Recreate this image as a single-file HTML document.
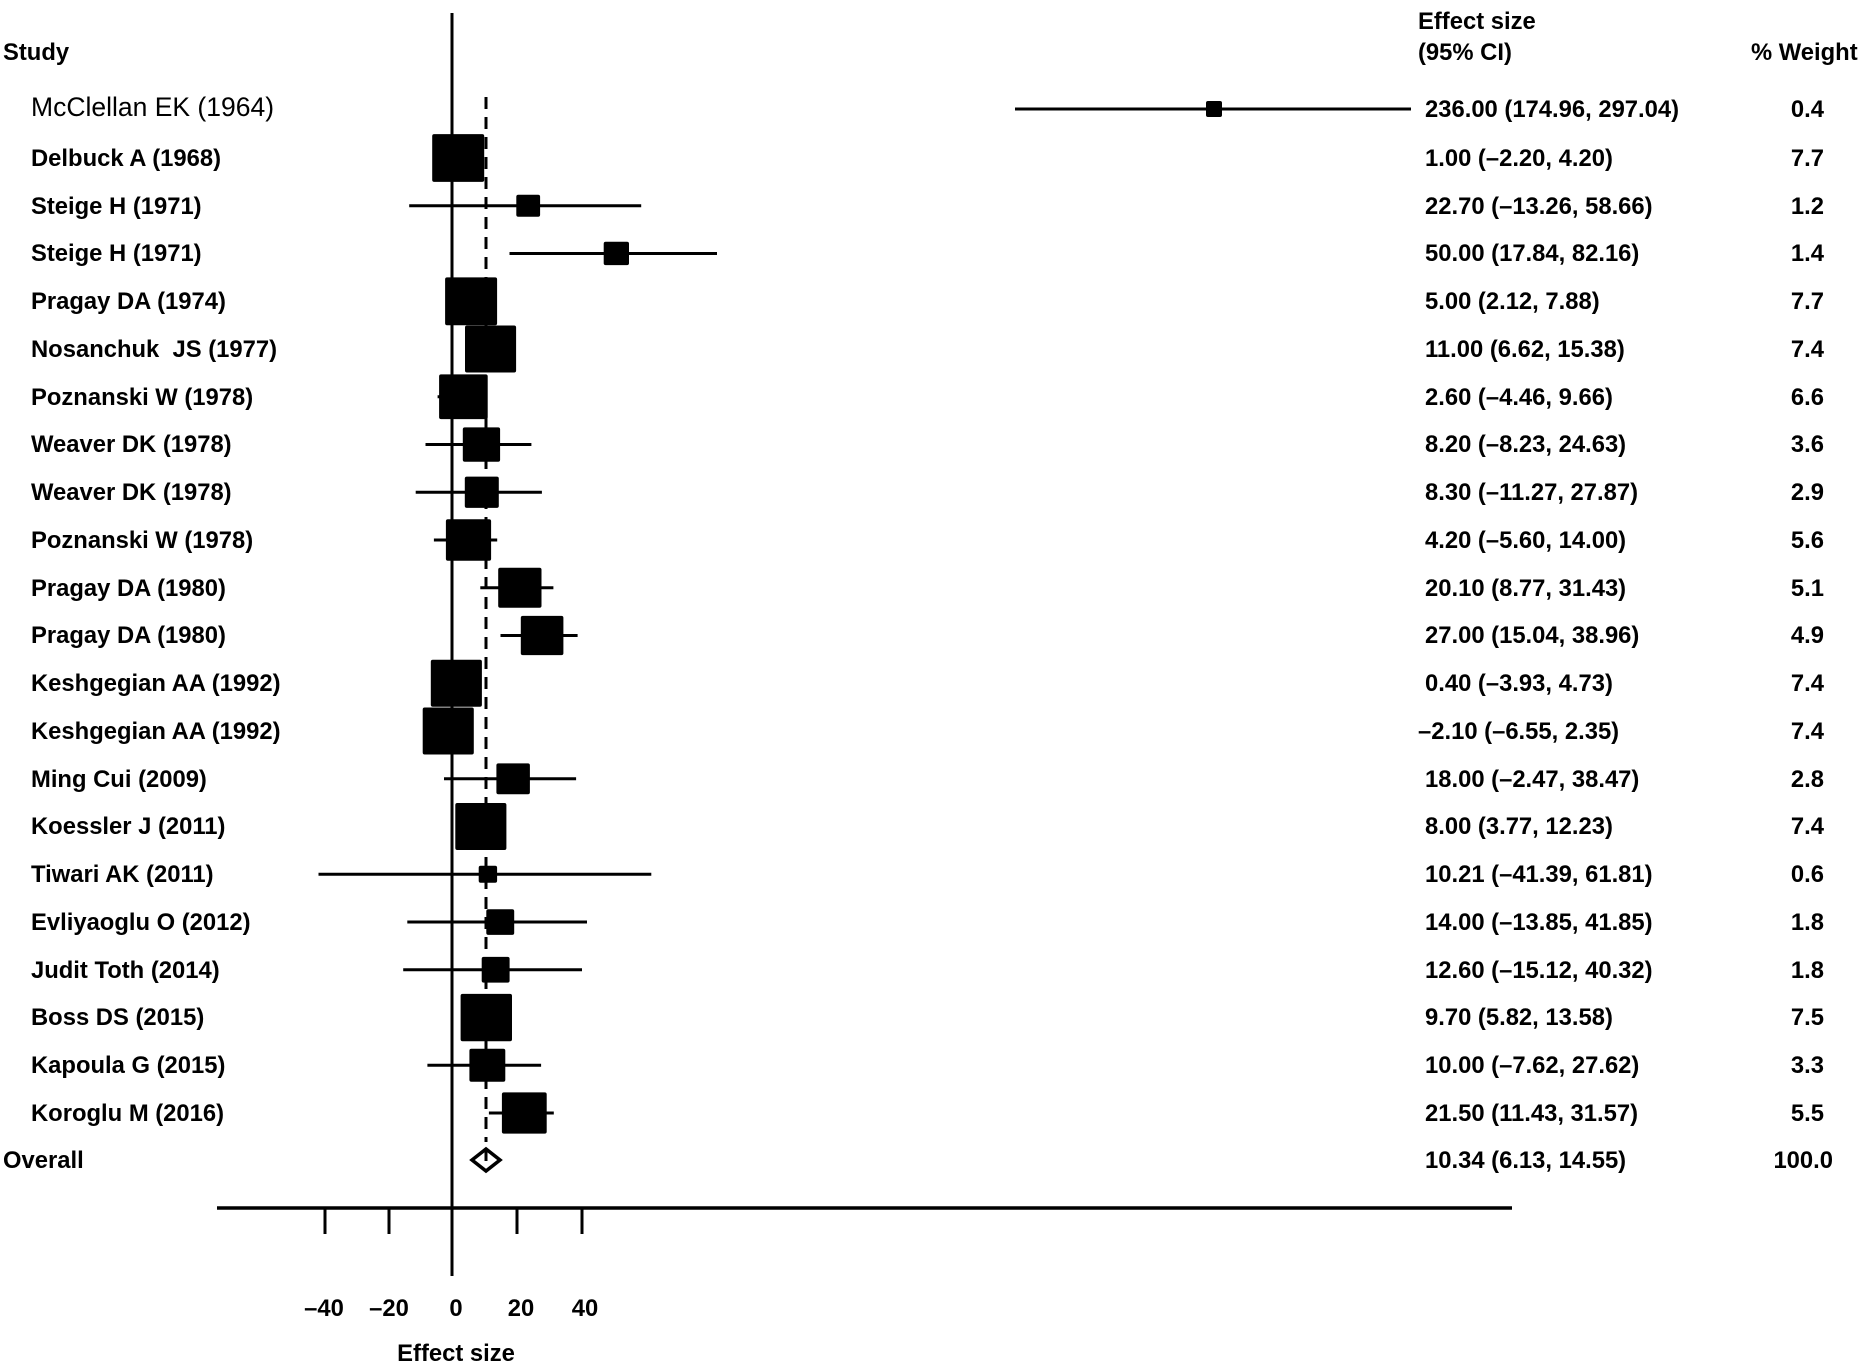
<!DOCTYPE html>
<html><head><meta charset="utf-8"><style>
html,body{margin:0;padding:0;background:#fff;}
svg{display:block;}
text{font-family:"Liberation Sans",Arial,sans-serif;font-weight:bold;font-size:23.8px;fill:#000;}
</style></head><body>
<svg width="1864" height="1366" viewBox="0 0 1864 1366" xmlns="http://www.w3.org/2000/svg">
<rect width="1864" height="1366" fill="#fff"/>
<line x1="452" y1="13" x2="452" y2="1276" stroke="#000" stroke-width="3"/>
<line x1="486" y1="97" x2="486" y2="1142" stroke="#000" stroke-width="3" stroke-dasharray="12 8"/>
<g stroke="#000" stroke-width="3">
<line x1="1015" y1="109" x2="1411" y2="109"/>
<line x1="444.9" y1="158" x2="465.5" y2="158"/>
<line x1="409.2" y1="205.75" x2="641.2" y2="205.75"/>
<line x1="509.5" y1="253.5" x2="717" y2="253.5"/>
<line x1="458.8" y1="301.25" x2="477.4" y2="301.25"/>
<line x1="473.3" y1="349" x2="501.6" y2="349"/>
<line x1="437.6" y1="396.75" x2="483.2" y2="396.75"/>
<line x1="425.5" y1="444.5" x2="531.4" y2="444.5"/>
<line x1="415.7" y1="492.25" x2="541.9" y2="492.25"/>
<line x1="433.9" y1="540" x2="497.2" y2="540"/>
<line x1="480.3" y1="587.75" x2="553.4" y2="587.75"/>
<line x1="500.5" y1="635.5" x2="577.6" y2="635.5"/>
<line x1="439.3" y1="683.25" x2="467.3" y2="683.25"/>
<line x1="430.9" y1="731" x2="459.6" y2="731"/>
<line x1="444" y1="778.75" x2="576.1" y2="778.75"/>
<line x1="464.2" y1="826.5" x2="491.4" y2="826.5"/>
<line x1="318.5" y1="874.25" x2="651.3" y2="874.25"/>
<line x1="407.3" y1="922" x2="587" y2="922"/>
<line x1="403.2" y1="969.75" x2="582" y2="969.75"/>
<line x1="470.8" y1="1017.5" x2="495.8" y2="1017.5"/>
<line x1="427.4" y1="1065.25" x2="541.1" y2="1065.25"/>
<line x1="488.9" y1="1113" x2="553.8" y2="1113"/>
</g>
<g fill="#000" transform="translate(3,0)">
<rect x="1203" y="101" width="16" height="16" rx="2"/>
<rect x="429.2" y="134.1" width="52" height="47.8" rx="2"/>
<rect x="513.3" y="194.8" width="23.8" height="21.9" rx="2"/>
<rect x="600.7" y="241.8" width="25.3" height="23.3" rx="2"/>
<rect x="442.1" y="277.4" width="52" height="47.8" rx="2"/>
<rect x="462" y="325.5" width="51.1" height="47" rx="2"/>
<rect x="436.1" y="374.4" width="48.6" height="44.7" rx="2"/>
<rect x="459.8" y="427.4" width="37.3" height="34.3" rx="2"/>
<rect x="461.8" y="476.6" width="34" height="31.3" rx="2"/>
<rect x="442.9" y="519.2" width="45.2" height="41.6" rx="2"/>
<rect x="495.2" y="567.8" width="43.3" height="39.9" rx="2"/>
<rect x="517.8" y="615.9" width="42.6" height="39.2" rx="2"/>
<rect x="427.8" y="659.8" width="51.1" height="47" rx="2"/>
<rect x="419.7" y="707.5" width="51.1" height="47" rx="2"/>
<rect x="493.4" y="763.4" width="33.5" height="30.8" rx="2"/>
<rect x="452.3" y="803" width="51.1" height="47" rx="2"/>
<rect x="475.7" y="865.8" width="18.4" height="16.9" rx="2"/>
<rect x="483.3" y="909.2" width="27.9" height="25.7" rx="2"/>
<rect x="478.7" y="956.9" width="27.9" height="25.7" rx="2"/>
<rect x="457.6" y="993.9" width="51.4" height="47.3" rx="2"/>
<rect x="466.4" y="1048.8" width="35.9" height="33" rx="2"/>
<rect x="498.9" y="1092.4" width="44.8" height="41.2" rx="2"/>
</g>
<polygon points="472,1160 486,1149 500,1160 486,1171" fill="#fff" stroke="#000" stroke-width="3.5"/>
<line x1="486" y1="1149" x2="486" y2="1161" stroke="#000" stroke-width="3"/>
<line x1="217" y1="1208" x2="1512" y2="1208" stroke="#000" stroke-width="3.5"/>
<g stroke="#000" stroke-width="3">
<line x1="325" y1="1208" x2="325" y2="1234"/>
<line x1="389" y1="1208" x2="389" y2="1234"/>
<line x1="517" y1="1208" x2="517" y2="1234"/>
<line x1="582" y1="1208" x2="582" y2="1234"/>
</g>
<g text-anchor="middle" style="font-size:23px">
<text x="324" y="1316">–40</text>
<text x="389" y="1316">–20</text>
<text x="456" y="1316">0</text>
<text x="521" y="1316">20</text>
<text x="585" y="1316">40</text>
<text x="456" y="1361">Effect size</text>
</g>
<text x="3" y="60">Study</text>
<text x="1418" y="29">Effect size</text>
<text x="1418" y="60">(95% CI)</text>
<text x="1751" y="60">% Weight</text>
<text x="31" y="116" style="font-weight:normal;font-size:26.5px">McClellan EK (1964)</text>
<text x="31" y="166">Delbuck A (1968)</text>
<text x="31" y="214">Steige H (1971)</text>
<text x="31" y="261">Steige H (1971)</text>
<text x="31" y="309">Pragay DA (1974)</text>
<text x="31" y="357" xml:space="preserve">Nosanchuk  JS (1977)</text>
<text x="31" y="405">Poznanski W (1978)</text>
<text x="31" y="452">Weaver DK (1978)</text>
<text x="31" y="500">Weaver DK (1978)</text>
<text x="31" y="548">Poznanski W (1978)</text>
<text x="31" y="596">Pragay DA (1980)</text>
<text x="31" y="643">Pragay DA (1980)</text>
<text x="31" y="691">Keshgegian AA (1992)</text>
<text x="31" y="739">Keshgegian AA (1992)</text>
<text x="31" y="787">Ming Cui (2009)</text>
<text x="31" y="834">Koessler J (2011)</text>
<text x="31" y="882">Tiwari AK (2011)</text>
<text x="31" y="930">Evliyaoglu O (2012)</text>
<text x="31" y="978">Judit Toth (2014)</text>
<text x="31" y="1025">Boss DS (2015)</text>
<text x="31" y="1073">Kapoula G (2015)</text>
<text x="31" y="1121">Koroglu M (2016)</text>
<text x="3" y="1168">Overall</text>
<text x="1425" y="117">236.00 (174.96, 297.04)</text>
<text x="1425" y="166">1.00 (–2.20, 4.20)</text>
<text x="1425" y="214">22.70 (–13.26, 58.66)</text>
<text x="1425" y="261">50.00 (17.84, 82.16)</text>
<text x="1425" y="309">5.00 (2.12, 7.88)</text>
<text x="1425" y="357">11.00 (6.62, 15.38)</text>
<text x="1425" y="405">2.60 (–4.46, 9.66)</text>
<text x="1425" y="452">8.20 (–8.23, 24.63)</text>
<text x="1425" y="500">8.30 (–11.27, 27.87)</text>
<text x="1425" y="548">4.20 (–5.60, 14.00)</text>
<text x="1425" y="596">20.10 (8.77, 31.43)</text>
<text x="1425" y="643">27.00 (15.04, 38.96)</text>
<text x="1425" y="691">0.40 (–3.93, 4.73)</text>
<text x="1418" y="739">–2.10 (–6.55, 2.35)</text>
<text x="1425" y="787">18.00 (–2.47, 38.47)</text>
<text x="1425" y="834">8.00 (3.77, 12.23)</text>
<text x="1425" y="882">10.21 (–41.39, 61.81)</text>
<text x="1425" y="930">14.00 (–13.85, 41.85)</text>
<text x="1425" y="978">12.60 (–15.12, 40.32)</text>
<text x="1425" y="1025">9.70 (5.82, 13.58)</text>
<text x="1425" y="1073">10.00 (–7.62, 27.62)</text>
<text x="1425" y="1121">21.50 (11.43, 31.57)</text>
<text x="1425" y="1168">10.34 (6.13, 14.55)</text>
<g text-anchor="end">
<text x="1824" y="117">0.4</text>
<text x="1824" y="166">7.7</text>
<text x="1824" y="214">1.2</text>
<text x="1824" y="261">1.4</text>
<text x="1824" y="309">7.7</text>
<text x="1824" y="357">7.4</text>
<text x="1824" y="405">6.6</text>
<text x="1824" y="452">3.6</text>
<text x="1824" y="500">2.9</text>
<text x="1824" y="548">5.6</text>
<text x="1824" y="596">5.1</text>
<text x="1824" y="643">4.9</text>
<text x="1824" y="691">7.4</text>
<text x="1824" y="739">7.4</text>
<text x="1824" y="787">2.8</text>
<text x="1824" y="834">7.4</text>
<text x="1824" y="882">0.6</text>
<text x="1824" y="930">1.8</text>
<text x="1824" y="978">1.8</text>
<text x="1824" y="1025">7.5</text>
<text x="1824" y="1073">3.3</text>
<text x="1824" y="1121">5.5</text>
<text x="1833" y="1168">100.0</text>
</g>
</svg>
</body></html>
